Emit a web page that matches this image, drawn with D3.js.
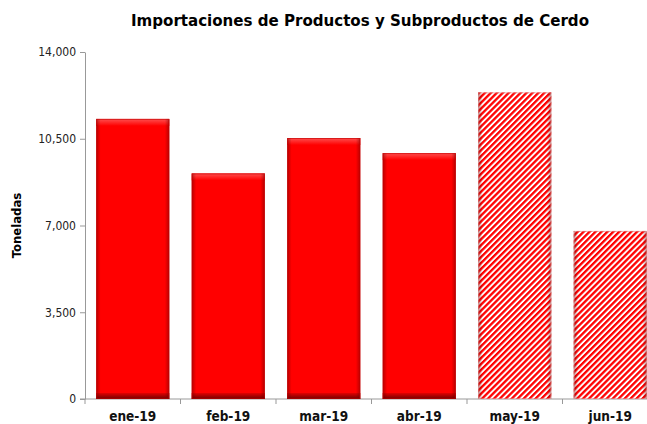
<!DOCTYPE html>
<html>
<head>
<meta charset="utf-8">
<script src="https://cdn.jsdelivr.net/npm/d3@7"></script>
<style>
  body { margin: 0; background: #fff; }
  svg { display: block; }
</style>
</head>
<body>
<svg width="647" height="424"></svg>
<script>
//-- data --//
const months = ["ene-19", "feb-19", "mar-19", "abr-19", "may-19", "jun-19"];
const tons = [11300, 9100, 10530, 9920, 12370, 6780];
const projected = [false, false, false, false, true, true];
const yTicks = [0, 3500, 7000, 10500, 14000];

const data = months.map((m, i) => ({month: m, value: tons[i], hatch: projected[i]}));

const margin = {top: 52, right: -11, bottom: 25, left: 85};
const width = 647;
const height = 424;

const x = d3.scaleBand()
    .domain(months)
    .range([margin.left, width - margin.right])
    .paddingInner(0.235)
    .paddingOuter(0.1175);

const y = d3.scaleLinear()
    .domain([0, 14000])
    .range([height - margin.bottom, margin.top]);

const svg = d3.select("svg");
const defs = svg.append("defs");

// bevel-ish shading
const topG = defs.append("linearGradient").attr("id", "topG").attr("x1", 0).attr("y1", 0).attr("x2", 0).attr("y2", 1);
topG.append("stop").attr("offset", 0).attr("stop-color", "#ff5050");
topG.append("stop").attr("offset", 1).attr("stop-color", "#ff0000");

const botG = defs.append("linearGradient").attr("id", "botG").attr("x1", 0).attr("y1", 0).attr("x2", 0).attr("y2", 1);
botG.append("stop").attr("offset", 0).attr("stop-color", "#e00000");
botG.append("stop").attr("offset", 1).attr("stop-color", "#700000");

const side = defs.append("linearGradient").attr("id", "side").attr("x1", 0).attr("y1", 0).attr("x2", 1).attr("y2", 0);
side.append("stop").attr("offset", 0).attr("stop-color", "#600000").attr("stop-opacity", 0.45);
side.append("stop").attr("offset", 0.06).attr("stop-color", "#600000").attr("stop-opacity", 0);
side.append("stop").attr("offset", 0.94).attr("stop-color", "#600000").attr("stop-opacity", 0);
side.append("stop").attr("offset", 1).attr("stop-color", "#600000").attr("stop-opacity", 0.45);

const hatch = defs.append("pattern")
    .attr("id", "hatch")
    .attr("patternUnits", "userSpaceOnUse")
    .attr("width", 4.2).attr("height", 4.2)
    .attr("patternTransform", "rotate(45)");
hatch.append("rect").attr("width", 4.2).attr("height", 4.2).attr("fill", "#fff");
hatch.append("rect").attr("width", 2.3).attr("height", 4.2).attr("fill", "#ff0000");

// title
svg.append("text")
    .attr("x", 360)
    .attr("y", 26)
    .attr("text-anchor", "middle")
    .attr("textLength", 458)
    .attr("lengthAdjust", "spacingAndGlyphs")
    .style("font", "bold 16px 'Liberation Sans Narrow', 'Arial Narrow', 'DejaVu Sans Condensed', sans-serif")
    .text("Importaciones de Productos y  Subproductos  de Cerdo");

// y label
svg.append("text")
    .attr("transform", `translate(21,${(y(0) + y(14000)) / 2}) rotate(-90)`)
    .attr("text-anchor", "middle")
    .style("font", "bold 13px 'DejaVu Sans Condensed', Tahoma, sans-serif")
    .text("Toneladas");

// y axis
svg.append("g")
    .attr("transform", `translate(${margin.left},0)`)
    .call(d3.axisLeft(y).tickValues(yTicks).tickSize(5).tickSizeOuter(0).tickFormat(d3.format(",")))
    .call(g => g.select(".domain").attr("stroke", "#999"))
    .call(g => g.selectAll(".tick line").attr("stroke", "#999"))
    .call(g => g.selectAll(".tick text")
        .attr("x", -9)
        .attr("fill", "#222")
        .style("font", "12px 'DejaVu Sans Condensed', Tahoma, sans-serif"));

// x axis
const xg = svg.append("g")
    .attr("transform", `translate(0,${y(0)})`);
xg.append("line")
    .attr("x1", margin.left - 5).attr("x2", width)
    .attr("stroke", "#999");
xg.selectAll(".tk")
    .data(months)
    .join("line")
    .attr("x1", d => x(d) - x.step() * x.paddingInner() / 2)
    .attr("x2", d => x(d) - x.step() * x.paddingInner() / 2)
    .attr("y2", 5)
    .attr("stroke", "#999");
xg.selectAll("text")
    .data(months)
    .join("text")
    .attr("x", d => x(d) + x.bandwidth() / 2)
    .attr("y", 22)
    .attr("text-anchor", "middle")
    .style("font", "bold 13.5px 'DejaVu Sans Condensed', Tahoma, sans-serif")
    .attr("fill", "#111")
    .text(d => d);

// bars
const bars = svg.append("g")
    .selectAll("g")
    .data(data)
    .join("g");

bars.append("rect")
    .attr("x", d => x(d.month))
    .attr("y", d => y(d.value))
    .attr("width", x.bandwidth())
    .attr("height", d => y(0) - y(d.value))
    .attr("fill", d => d.hatch ? "url(#hatch)" : "#ff0000");

const solid = bars.filter(d => !d.hatch);
solid.append("rect")
    .attr("x", d => x(d.month))
    .attr("y", d => y(d.value))
    .attr("width", x.bandwidth())
    .attr("height", 7)
    .attr("fill", "url(#topG)");
solid.append("rect")
    .attr("x", d => x(d.month))
    .attr("y", y(0) - 6)
    .attr("width", x.bandwidth())
    .attr("height", 6)
    .attr("fill", "url(#botG)");

bars.append("rect")
    .attr("x", d => x(d.month))
    .attr("y", d => y(d.value))
    .attr("width", x.bandwidth())
    .attr("height", d => y(0) - y(d.value))
    .attr("fill", "url(#side)");

bars.append("rect")
    .attr("x", d => x(d.month) + 0.5)
    .attr("y", d => y(d.value) + 0.5)
    .attr("width", x.bandwidth() - 1)
    .attr("height", d => y(0) - y(d.value) - 1)
    .attr("fill", "none")
    .attr("stroke", d => d.hatch ? "#d88" : "#c00000")
    .attr("stroke-opacity", 0.6);
</script>
</body>
</html>
